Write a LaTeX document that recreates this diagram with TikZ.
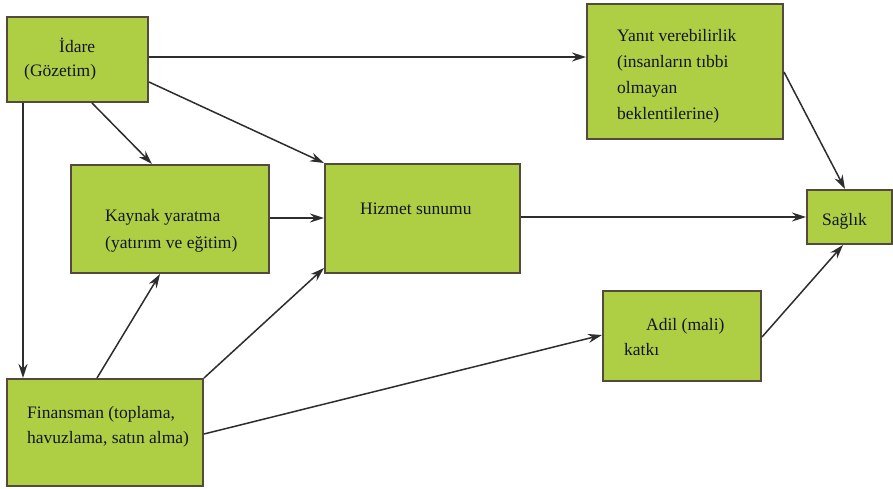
\documentclass[tikz,border=0pt]{standalone}
\usepackage{fontspec}
\setmainfont{Liberation Serif}
\usetikzlibrary{calc,arrows.meta}
\definecolor{boxfill}{RGB}{174,207,68}
\definecolor{boxdraw}{RGB}{85,72,60}
\definecolor{linecol}{RGB}{45,45,45}
\definecolor{txtcol}{RGB}{20,20,35}
\tikzset{
  box/.style={draw=boxdraw,fill=boxfill,line width=2pt,inner sep=0pt,anchor=north west},
  lbl/.style={anchor=base west,inner sep=0pt,align=left,text=txtcol,
    font=\fontsize{17.5pt}{24pt}\selectfont},
  conn/.style={draw=linecol,line width=1.5pt,-{Stealth[length=14pt,width=9pt]}}
}
\begin{document}
\begin{tikzpicture}[x=1pt,y=-1pt]
\useasboundingbox[fill=white] (0,0) rectangle (893,489);
% boxes
\node[box,minimum width=141pt,minimum height=85pt] (idare) at (6,16) {};
\node[box,minimum width=196pt,minimum height=135pt] (yanit) at (586,3) {};
\node[box,minimum width=198pt,minimum height=108pt] (kaynak) at (70,164) {};
\node[box,minimum width=195pt,minimum height=109pt] (hizmet) at (324,163) {};
\node[box,minimum width=85pt,minimum height=54pt] (saglik) at (806,189) {};
\node[box,minimum width=158pt,minimum height=90pt] (adil) at (602,290) {};
\node[box,minimum width=196pt,minimum height=107pt] (finans) at (6,378) {};
% texts (anchored at the baseline of the last line)
\node[lbl] (tidare) at (24,77) {\hspace*{35pt}İdare\\(Gözetim)};
\node[lbl,font=\fontsize{17.5pt}{26pt}\selectfont] (tyanit) at (617,120) {Yanıt verebilirlik\\(insanların tıbbi\\olmayan\\beklentilerine)};
\node[lbl,font=\fontsize{17.5pt}{27pt}\selectfont] (tkaynak) at (105,248) {Kaynak yaratma\\(yatırım ve eğitim)};
\node[lbl] (thizmet) at (360,214) {Hizmet sunumu};
\node[lbl] (tsaglik) at (822,225) {Sağlık};
\node[lbl,font=\fontsize{17.5pt}{25pt}\selectfont] (tadil) at (624,355) {\hspace*{22pt}Adil (mali)\\katkı};
\node[lbl,font=\fontsize{17.5pt}{25pt}\selectfont] (tfinans) at (27,443) {Finansman (toplama,\\havuzlama, satın alma)};
% connectors
\draw[conn] ($(idare.north east)+(0,41)$) -- ($(yanit.north west)+(0,54)$);
\draw[conn] ($(idare.north east)+(0,66)$) -- (hizmet.north west);
\draw[conn] ($(idare.south west)+(86,0)$) -- ($(kaynak.north west)+(82,0)$);
\draw[conn] ($(idare.south west)+(17,0)$) -- ($(finans.north west)+(17,0)$);
\draw[conn] ($(kaynak.north east)+(0,54)$) -- ($(hizmet.north west)+(0,55)$);
\draw[conn] ($(finans.north west)+(91,0)$) -- ($(kaynak.south west)+(90,0)$);
\draw[conn] (finans.north east) -- ($(hizmet.south west)+(0,-6)$);
\draw[conn] ($(finans.north east)+(0,56)$) -- ($(adil.north west)+(0,45)$);
\draw[conn] ($(hizmet.north east)+(0,54)$) -- ($(saglik.north west)+(0,28)$);
\draw[conn] ($(yanit.north east)+(0,69)$) -- ($(saglik.north west)+(39,0)$);
\draw[conn] ($(adil.north east)+(0,47)$) -- ($(saglik.south west)+(37,0)$);
\end{tikzpicture}
\end{document}
